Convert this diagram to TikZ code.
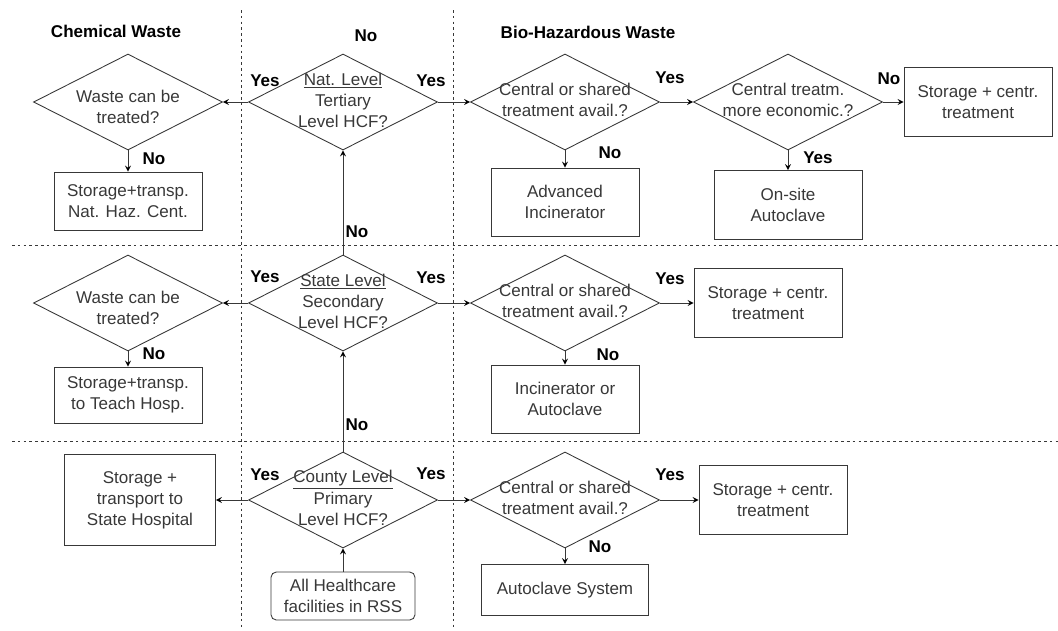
\documentclass[tikz,border=0pt]{standalone}
\usepackage{xcolor}
\usepackage{fontspec}
\setmainfont{Liberation Sans}
\usepackage{tikz}
\usetikzlibrary{shapes.geometric}
\usetikzlibrary{arrows}

\definecolor{ink}{gray}{0.22}
% text of a decision, allowed to run over the diamond's edges
\newcommand{\dtxt}[2][0pt]{\makebox[0pt]{\raisebox{#1}[\height][\depth]{\begin{tabular}{@{}c@{}}#2\end{tabular}}}}

\begin{document}
\begin{tikzpicture}[x=0.02cm, y=-0.02cm, line width=0.5pt, >=stealth,
    font=\fontsize{9.7}{12}\selectfont,
    dia/.style={diamond, draw=ink, text=ink, inner sep=0pt, minimum width=3.78cm, minimum height=1.92cm},
    box/.style={rectangle, draw=ink, text=ink, align=center, minimum width=2.96cm, minimum height=1.38cm},
    lbl/.style={font=\fontsize{9.7}{12}\selectfont\bfseries, text=black},
    lane/.style={draw=ink, line width=0.4pt, dash pattern=on 1.5pt off 1.8pt}]
        \useasboundingbox (0,0) rectangle (1058,630);

        % Lanes
        \draw[lane] (241,10) -- (241,630);
        \draw[lane] (453,10) -- (453,630);
        \draw[lane] (12,245) -- (1058,245);
        \draw[lane] (12,441) -- (1058,441);

        \draw (116,31) node(chemT) [lbl] {Chemical Waste};
        \draw (588,32) node(bioT) [lbl] {Bio-Hazardous Waste};
        \draw (366,36) node(noTop) [lbl] {No};

        % Nodes: national level
        \draw (343,102) node(natL)  [dia] {\dtxt{\underline{Nat. Level}\\Tertiary\\Level HCF?}};
        \draw (128,102) node(wasteA) [dia] {\dtxt[-4pt]{Waste can be\\treated?}};
        \draw (128,201) node(chemA) [box, minimum height=1.16cm] {Storage+transp.\\Nat. Haz. Cent.};
        \draw (565,102) node(cenA)  [dia] {\dtxt{Central or shared\\treatment avail.?}};
        \draw (788,102) node(ecoA)  [dia] {\dtxt{Central treatm.\\more economic.?}};
        \draw (978,102) node(storA) [box] {Storage + centr.\\treatment};
        \draw (565,202) node(advA)  [box, minimum height=1.36cm] {Advanced\\Incinerator};
        \draw (788,205) node(onsA)  [box] {On-site\\Autoclave};

        % Nodes: state level
        \draw (343,303) node(stateL) [dia] {\dtxt{\underline{State Level}\\Secondary\\Level HCF?}};
        \draw (128,303) node(wasteB) [dia] {\dtxt[-4pt]{Waste can be\\treated?}};
        \draw (128,395) node(chemB) [box, minimum height=1.12cm] {Storage+transp.\\to Teach Hosp.};
        \draw (565,303) node(cenB)  [dia] {\dtxt{Central or shared\\treatment avail.?}};
        \draw (768,303) node(storB) [box] {Storage + centr.\\treatment};
        \draw (565,399) node(incB)  [box, minimum height=1.36cm] {Incinerator or\\Autoclave};

        % Nodes: county level
        \draw (343,500) node(countyL) [dia] {\dtxt{\underline{County Level}\\Primary\\Level HCF?}};
        \draw (140,500) node(hospC) [box, minimum width=3.02cm, minimum height=1.82cm] {Storage +\\transport to\\State Hospital};
        \draw (565,500) node(cenC)  [dia] {\dtxt{Central or shared\\treatment avail.?}};
        \draw (773,500) node(storC) [box] {Storage + centr.\\treatment};
        \draw (565,590) node(autoC) [box, minimum width=3.34cm, minimum height=1.02cm] {Autoclave System};
        \draw (343,596) node(allHC) [box, rounded corners=3pt, minimum width=2.88cm, minimum height=0.96cm] {All Healthcare\\facilities in RSS};

        % Edges
        \path[draw=ink, ->] (natL) edge (wasteA);
        \path[draw=ink, ->] (wasteA) edge (chemA);
        \path[draw=ink, ->] (natL) edge (cenA);
        \path[draw=ink, ->] (cenA) edge (ecoA);
        \path[draw=ink, ->] (ecoA) edge (storA);
        \path[draw=ink, ->] (cenA) edge (advA);
        \path[draw=ink, ->] (ecoA) edge (onsA);

        \path[draw=ink, ->] (stateL) edge (natL);
        \path[draw=ink, ->] (stateL) edge (wasteB);
        \path[draw=ink, ->] (wasteB) edge (chemB);
        \path[draw=ink, ->] (stateL) edge (cenB);
        \path[draw=ink, ->] (cenB) edge (storB);
        \path[draw=ink, ->] (cenB) edge (incB);

        \path[draw=ink, ->] (countyL) edge (stateL);
        \path[draw=ink, ->] (countyL) edge (hospC);
        \path[draw=ink, ->] (countyL) edge (cenC);
        \path[draw=ink, ->] (cenC) edge (storC);
        \path[draw=ink, ->] (cenC) edge (autoC);
        \path[draw=ink, ->] (allHC) edge (countyL);

        % Yes / No
        \draw (265,81)  node(yNatW) [lbl] {Yes};
        \draw (431,81)  node(yNatE) [lbl] {Yes};
        \draw (154,159) node(nWasteA) [lbl] {No};
        \draw (670,78)  node(yCenA) [lbl] {Yes};
        \draw (610,153) node(nCenA) [lbl] {No};
        \draw (889,79)  node(nEcoA) [lbl] {No};
        \draw (818,158) node(yEcoA) [lbl] {Yes};
        \draw (357,232) node(nState) [lbl] {No};

        \draw (265,277) node(yStateW) [lbl] {Yes};
        \draw (431,278) node(yStateE) [lbl] {Yes};
        \draw (154,354) node(nWasteB) [lbl] {No};
        \draw (670,279) node(yCenB) [lbl] {Yes};
        \draw (608,355) node(nCenB) [lbl] {No};
        \draw (357,425) node(nCounty) [lbl] {No};

        \draw (265,475) node(yCountyW) [lbl] {Yes};
        \draw (431,474) node(yCountyE) [lbl] {Yes};
        \draw (670,475) node(yCenC) [lbl] {Yes};
        \draw (600,547) node(nCenC) [lbl] {No};

      \end{tikzpicture}
\end{document}
